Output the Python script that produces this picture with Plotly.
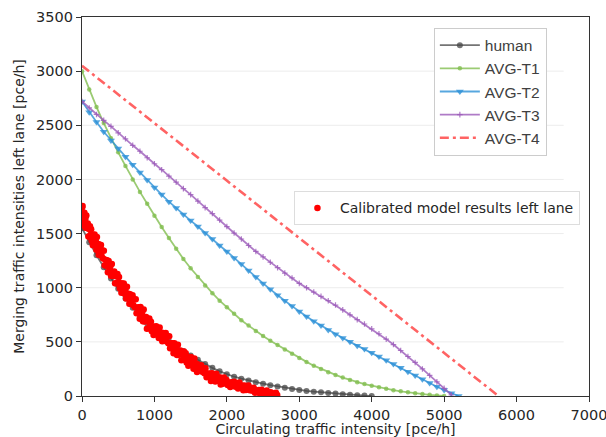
import plotly.graph_objects as go

# ---------------- data ----------------
step_x_human = [0, 100, 200, 300, 400, 500, 600, 700, 800, 900, 1000, 1100, 1200, 1300, 1400,
                1500, 1600, 1700, 1800, 1900, 2000, 2100, 2200, 2300, 2400, 2500, 2600, 2700,
                2800, 2900, 3000, 3100, 3200, 3300, 3400, 3500, 3600, 3700, 3800, 3900, 4000]
human = [1550, 1420, 1300, 1190, 1085, 990, 900, 815, 740, 670, 610, 555, 505, 460, 415,
         375, 335, 295, 260, 228, 200, 178, 160, 143, 128, 114, 100, 88,
         76, 65, 55, 47, 40, 34, 28, 22, 17, 12, 8, 4, 1]

x_t1 = [i * 100 for i in range(0, 51)]
avg_t1 = [3000, 2830, 2670, 2520, 2380, 2250, 2125, 2000, 1885, 1775,
          1665, 1560, 1460, 1360, 1265, 1180, 1100, 1020, 950, 880,
          820, 760, 700, 650, 600, 555, 510, 470, 430, 390,
          350, 315, 280, 250, 220, 195, 170, 148, 128, 110,
          95, 80, 66, 54, 43, 34, 26, 18, 11, 5, 0]

x_t2 = [i * 100 for i in range(0, 53)]
avg_t2 = [2720, 2620, 2530, 2440, 2360, 2285, 2210, 2135, 2065, 1995,
          1925, 1860, 1795, 1735, 1675, 1620, 1565, 1505, 1450, 1390,
          1335, 1275, 1220, 1160, 1100, 1040, 985, 930, 880, 830,
          780, 735, 690, 650, 610, 570, 535, 500, 465, 435,
          400, 365, 330, 295, 260, 225, 190, 155, 120, 85, 55, 25, 0]

x_t3 = [i * 100 for i in range(0, 52)]
avg_t3 = [2720, 2660, 2600, 2545, 2490, 2430, 2375, 2315, 2260, 2200,
          2145, 2090, 2030, 1975, 1915, 1860, 1800, 1740, 1685, 1625,
          1565, 1505, 1450, 1390, 1335, 1285, 1235, 1185, 1135, 1090,
          1040, 1000, 960, 920, 880, 840, 795, 750, 705, 665,
          620, 575, 525, 475, 420, 365, 310, 250, 190, 130, 70, 10]

x_t4 = [0, 5750]
avg_t4 = [3050, 0]

calib_x = [2, 5, 8, 11, 15, 19, 24, 28, 33, 40, 47, 52, 60, 66, 73, 80, 88, 96, 104, 110,
           118, 126, 134, 142, 150, 158, 166, 174, 182, 190, 198, 206, 214, 222, 230, 238, 246, 254, 262, 270,
           280, 291, 302, 313, 324, 335, 346, 357, 368, 379, 390, 401, 412, 423, 434, 445, 456, 467, 478, 489,
           500, 511, 522, 533, 544, 555, 566, 577, 588, 599, 610, 621, 632, 643, 654, 665, 676, 687, 698, 709,
           720, 731, 742, 753, 764, 775, 786, 797, 808, 819, 830, 841, 852, 863, 874, 885, 896, 907, 918, 929,
           940, 952, 964, 976, 988, 1000, 1012, 1024, 1036, 1048, 1060, 1072, 1084, 1096, 1108, 1120, 1132, 1144, 1156, 1168,
           1180, 1192, 1204, 1216, 1228, 1240, 1252, 1264, 1276, 1288, 1300, 1312, 1324, 1336, 1348, 1360, 1372, 1384, 1396, 1408,
           1420, 1432, 1444, 1456, 1468, 1480, 1492, 1504, 1516, 1528, 1540, 1552, 1564, 1576, 1588,
           1600, 1615, 1630, 1645, 1660,
           1675, 1690, 1705, 1720, 1735, 1750, 1765, 1780, 1795, 1810, 1825, 1840, 1855, 1870, 1885, 1900, 1915, 1930, 1945, 1960,
           1975, 1993, 2011, 2029, 2047, 2065, 2083, 2101, 2119, 2137, 2155, 2173, 2191, 2209, 2227, 2245, 2263, 2281, 2299, 2317,
           2335, 2353, 2371, 2389, 2407, 2425, 2443, 2461, 2479, 2497, 2515, 2533, 2551, 2569, 2587, 2605, 2623, 2641, 2659, 2677, 2695]
calib_y = [1741, 1669, 1754, 1620, 1681, 1628, 1687, 1575, 1693, 1613, 1637, 1554, 1667, 1551, 1569, 1594, 1474, 1542, 1470, 1568,
           1490, 1540, 1434, 1485, 1392, 1488, 1441, 1491, 1392, 1434, 1350, 1468, 1368, 1404, 1304, 1399, 1307, 1343, 1394, 1294,
           1346, 1270, 1341, 1208, 1258, 1203, 1253, 1142, 1247, 1171, 1193, 1110, 1218, 1109, 1126, 1150, 1041, 1107, 1040, 1127,
           1053, 1098, 996, 1041, 953, 1040, 994, 1039, 944, 982, 901, 1009, 914, 945, 851, 939, 852, 885, 931, 838,
           891, 819, 893, 765, 818, 767, 820, 713, 821, 747, 771, 690, 798, 689, 706, 730, 621, 689, 625, 716,
           646, 686, 599, 639, 564, 640, 604, 645, 567, 603, 536, 632, 553, 583, 505, 582, 510, 540, 581, 503,
           549, 487, 551, 440, 486, 442, 487, 395, 488, 426, 448, 379, 473, 381, 396, 420, 329, 389, 335, 412,
           352, 394, 309, 351, 279, 356, 320, 361, 283, 318, 252, 347, 269, 299, 221,
           290, 235, 254, 284, 223,
           257, 210, 257, 174, 208, 175, 208, 139, 209, 164, 183, 133, 206, 140, 154, 172, 106, 151, 112, 171,
           127, 151, 101, 125, 83, 127, 107, 132, 86, 107, 69, 125, 80, 97, 52, 97, 56, 73, 97, 53,
           75, 48, 76, 31, 51, 35, 55, 17, 57, 33, 44, 16, 51, 21, 27, 34, 4, 24, 7, 29, 10]

x_ticks = [0, 1000, 2000, 3000, 4000, 5000, 6000, 7000]
y_ticks = [0, 500, 1000, 1500, 2000, 2500, 3000, 3500]

# ---------------- figure ----------------
fig = go.Figure()

fig.add_trace(go.Scatter(
    x=step_x_human, y=human, name="human", mode="lines+markers",
    line=dict(color="rgba(70,70,70,0.75)", width=1.8),
    marker=dict(symbol="circle", size=6, color="rgba(70,70,70,0.75)"),
    legend="legend"))
fig.add_trace(go.Scatter(
    x=x_t1, y=avg_t1, name="AVG-T1", mode="lines+markers",
    line=dict(color="rgba(130,190,80,0.8)", width=1.8),
    marker=dict(symbol="circle", size=4.5, color="rgba(130,190,80,0.8)"),
    legend="legend"))
fig.add_trace(go.Scatter(
    x=x_t2, y=avg_t2, name="AVG-T2", mode="lines+markers",
    line=dict(color="rgba(45,145,215,0.8)", width=1.8),
    marker=dict(symbol="triangle-down", size=7, color="rgba(45,145,215,0.8)"),
    legend="legend"))
fig.add_trace(go.Scatter(
    x=x_t3, y=avg_t3, name="AVG-T3", mode="lines+markers",
    line=dict(color="rgba(155,90,185,0.8)", width=1.8),
    marker=dict(symbol="cross-thin-open", size=4, color="rgba(155,90,185,0.8)",
                line=dict(width=1.2, color="rgba(155,90,185,0.8)")),
    legend="legend"))
fig.add_trace(go.Scatter(
    x=x_t4, y=avg_t4, name="AVG-T4", mode="lines",
    line=dict(color="rgba(255,60,60,0.8)", width=2.6, dash="9px,4px,3px,4px"),
    legend="legend"))
fig.add_trace(go.Scatter(
    x=calib_x, y=calib_y, name="Calibrated model results left lane", mode="markers",
    marker=dict(symbol="circle", size=6.5, color="#ff0000"),
    legend="legend2"))

# light horizontal grid lines (stop short of the right spine as in reference)
for yv in y_ticks[1:-1]:
    fig.add_shape(type="line", xref="x", yref="y", x0=0, x1=6650, y0=yv, y1=yv,
                  line=dict(color="#ececec", width=1), layer="below")

axis_common = dict(
    showline=True, linecolor="#333333", linewidth=1.2, mirror=True,
    ticks="outside", ticklen=5, tickcolor="#333333", tickwidth=1,
    showgrid=False, zeroline=False, ticklabeloverflow="allow", automargin=False,
    tickfont=dict(family="DejaVu Sans", size=14.5, color="#262626"),
)

fig.update_layout(
    width=606, height=437,
    margin=dict(l=82, r=17, t=17, b=41, autoexpand=False),
    paper_bgcolor="white", plot_bgcolor="white",
    xaxis=dict(range=[0, 7000], tickvals=x_ticks,
               title=dict(text="Circulating traffic intensity [pce/h]",
                          font=dict(family="DejaVu Sans", size=14, color="#262626"),
                          standoff=9),
               **axis_common),
    yaxis=dict(range=[0, 3500], tickvals=y_ticks,
               title=dict(text="Merging traffic intensities left lane [pce/h]",
                          font=dict(family="DejaVu Sans", size=14, color="#262626"),
                          standoff=8),
               **axis_common),
    legend=dict(x=0.694, y=0.972, xanchor="left", yanchor="top",
                bgcolor="white", bordercolor="#cccccc", borderwidth=1,
                font=dict(family="Liberation Sans", size=15.5, color="#404040"),
                itemwidth=40, tracegroupgap=0),
    legend2=dict(x=0.418, y=0.54, xanchor="left", yanchor="top",
                 bgcolor="white", bordercolor="#dddddd", borderwidth=1,
                 font=dict(family="DejaVu Sans", size=14, color="#262626"),
                 itemwidth=35),
    showlegend=True,
)

fig.write_html("out.html")
